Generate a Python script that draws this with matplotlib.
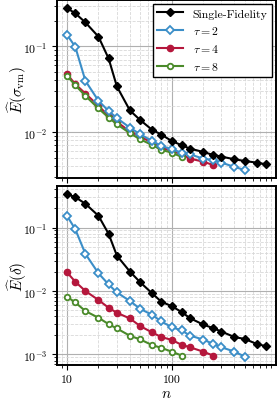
import matplotlib
matplotlib.use("Agg")
import matplotlib.pyplot as plt
from matplotlib.ticker import FuncFormatter, LogLocator, NullFormatter
import numpy as np

plt.rcParams['font.family'] = 'serif'
plt.rcParams['font.serif'] = ['cmr10']
plt.rcParams['mathtext.fontset'] = 'cm'
plt.rcParams['axes.unicode_minus'] = False

# sample sizes
n_all = [10, 12, 15, 20, 25, 30, 40, 50, 65, 80, 100, 125, 150, 200, 250, 300, 400, 500, 650, 800]
n_sf = n_all
n_t2 = n_all[:18]
n_t4 = n_all[:15]
n_t8 = n_all[:12]

# error on von Mises stress
svm_sf = [0.281, 0.244, 0.191, 0.130, 0.0723, 0.0340, 0.0178, 0.0138, 0.0106, 0.0093,
          0.00784, 0.00698, 0.00638, 0.00583, 0.00538, 0.00514, 0.00478, 0.00457, 0.00437, 0.00418]
svm_t2 = [0.137, 0.0991, 0.0396, 0.0231, 0.0176, 0.0145, 0.0112, 0.0094, 0.00784, 0.00686,
          0.00626, 0.00573, 0.00547, 0.00487, 0.00466, 0.00437, 0.00389, 0.00359]
svm_t4 = [0.0474, 0.0362, 0.0281, 0.0202, 0.0154, 0.0131, 0.0101, 0.00882, 0.0075, 0.00655,
          0.00599, 0.00547, 0.00487, 0.00449, 0.0041]
svm_t8 = [0.0453, 0.0352, 0.0264, 0.0188, 0.0147, 0.0123, 0.00965, 0.0082, 0.00704, 0.00615,
          0.00573, 0.00509]

# error on displacement
dl_sf = [0.336, 0.301, 0.237, 0.153, 0.0795, 0.0361, 0.0202, 0.0138, 0.00923, 0.00677,
         0.00579, 0.00466, 0.00374, 0.00297, 0.0026, 0.0023, 0.00188, 0.00176, 0.00147, 0.00135]
dl_t2 = [0.153, 0.094, 0.0385, 0.019, 0.0127, 0.0095, 0.00695, 0.00525, 0.00422, 0.00331,
         0.0027, 0.00239, 0.00199, 0.00172, 0.00147, 0.0013, 0.00111, 0.000927]
dl_t4 = [0.0197, 0.014, 0.01, 0.00721, 0.00545, 0.00454, 0.00369, 0.00281, 0.00223, 0.00188,
         0.0017, 0.00142, 0.0013, 0.00111, 0.000962]
dl_t8 = [0.00813, 0.00661, 0.00483, 0.00379, 0.00301, 0.00257, 0.00197, 0.00173, 0.00141, 0.00127,
         0.00111, 0.000962]

labels = ['Single-Fidelity', r'$\tau = 2$', r'$\tau = 4$', r'$\tau = 8$']
blue = '#3b8ec8'
red = '#b5173c'
green = '#4a8a2a'

fig = plt.figure(figsize=(2.77, 4.02), dpi=100)
ax1 = fig.add_axes([0.206, 0.5547, 0.790, 0.4428])
ax2 = fig.add_axes([0.206, 0.0903, 0.790, 0.4445], sharex=ax1)

def draw(ax, sf, t2, t4, t8):
    ax.plot(n_sf, sf, color='black', marker='D', ms=4.5, lw=1.5, label=labels[0], zorder=5)
    ax.plot(n_t2, t2, color=blue, marker='D', ms=4.5, mfc='white', mew=1.3, lw=1.5, label=labels[1], zorder=4)
    ax.plot(n_t4, t4, color=red, marker='o', ms=4.5, lw=1.5, label=labels[2], zorder=3)
    ax.plot(n_t8, t8, color=green, marker='o', ms=4, mfc='white', mew=1.3, lw=1.5, label=labels[3], zorder=3)
    ax.set_xscale('log')
    ax.set_yscale('log')
    ax.grid(True, which='major', color='#b0b0b0', lw=0.8, ls='-')
    ax.grid(True, which='minor', color='#d8d8d8', lw=0.6, ls='--')
    for s in ax.spines.values():
        s.set_linewidth(1.4)
    ax.tick_params(which='major', length=3.5, width=0.8, labelsize=8.5)
    ax.tick_params(which='minor', length=2, width=0.6)
    ax.yaxis.set_minor_locator(LogLocator(base=10, subs=np.arange(2, 10)))
    ax.yaxis.set_minor_formatter(NullFormatter())
    ax.yaxis.set_major_formatter(FuncFormatter(lambda v, p: r'$10^{%d}$' % round(np.log10(v))))

draw(ax1, svm_sf, svm_t2, svm_t4, svm_t8)
draw(ax2, dl_sf, dl_t2, dl_t4, dl_t8)

ax2.xaxis.set_major_formatter(FuncFormatter(lambda v, p: '%d' % round(v)))
ax2.xaxis.set_minor_formatter(NullFormatter())
plt.setp(ax1.get_xticklabels(), visible=False)

ax1.set_ylabel(r'$\widehat{E}(\sigma_{\mathrm{vm}})$', fontsize=11)
ax2.set_ylabel(r'$\widehat{E}(\delta)$', fontsize=11)
ax1.yaxis.set_label_coords(-0.13, 0.5)
ax2.yaxis.set_label_coords(-0.13, 0.5)
ax2.set_xlabel(r'$n$', fontsize=11, labelpad=2)

leg = ax1.legend(loc='upper right', fontsize=8.5, fancybox=False, framealpha=1,
                 edgecolor='black', borderaxespad=0.3, handlelength=2.2)
leg.get_frame().set_linewidth(1.0)

fig.savefig('out.png', dpi=100)
